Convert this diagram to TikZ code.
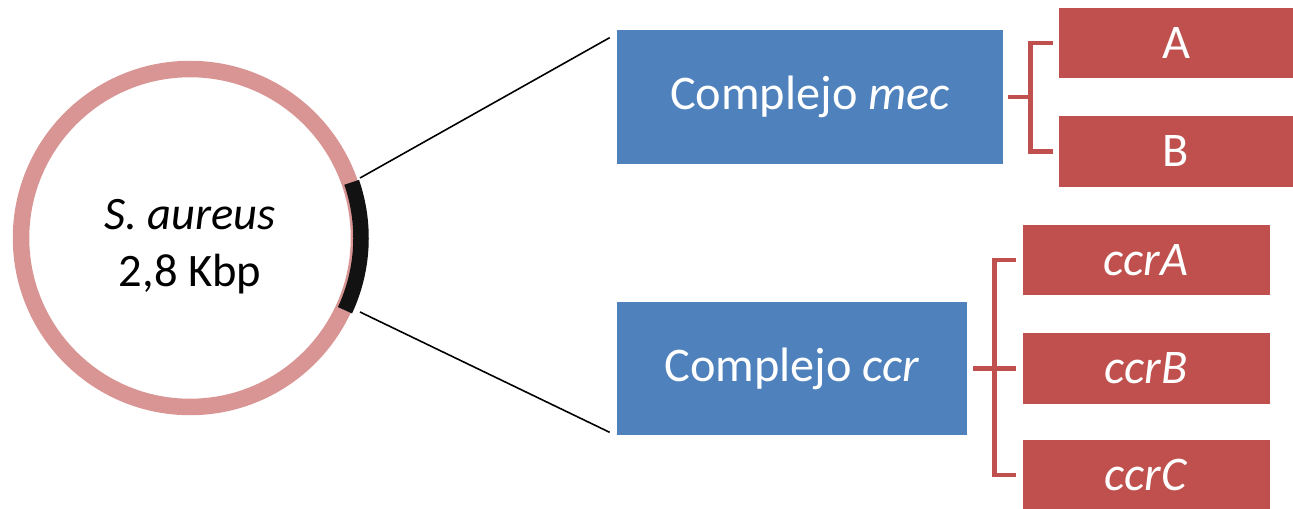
\documentclass[tikz,border=0pt]{standalone}
\usepackage{fontspec}
\setmainfont{Carlito}
\usepackage{xcolor}
\usetikzlibrary{positioning,calc}

\definecolor{cajaazul}{HTML}{4F81BD}
\definecolor{cajaroja}{HTML}{C0504D}
\definecolor{anillo}{HTML}{D99594}

\tikzset{
  bluebox/.style={fill=cajaazul, text=white, inner sep=0pt, font=\fontsize{27.5}{32}\selectfont},
  redbox/.style={fill=cajaroja, text=white, inner sep=0pt, minimum height=1.42cm, font=\fontsize{27.5}{32}\selectfont},
  bracket/.style={draw=cajaroja, line width=2.8pt},
  arm/.style={draw=black, line width=0.9pt}
}

\begin{document}
\begin{tikzpicture}[x=0.02cm, y=-0.02cm]
    \useasboundingbox (0,0) rectangle (1293,509);
    % Plasmid
    \draw [anillo, line width=0.33cm] (190,238) circle [radius=3.38cm];
    \draw [black!93, line width=0.31cm] (190,238) ++(-19:171) arc [start angle=-19, end angle=25, radius=171];
    \node (plasmido) at (190,247) [align=center, font=\fontsize{26.5}{32.5}\selectfont] {\textit{S. aureus}\\2,8 Kbp};
    \coordinate (armA) at (360,178);
    \coordinate (armB) at (360,312);
    % Complejos
    \node (mec) at (810,97) [bluebox, minimum width=7.72cm, minimum height=2.68cm] {Complejo \textit{mec}};
    \node (ccr) at (792,368.5) [bluebox, minimum width=7cm, minimum height=2.66cm] {Complejo \textit{ccr}};
    % Genes
    \node (mecA) at (1176,43) [redbox, minimum width=4.68cm] {A};
    \node (mecB) at (1176,151.5) [redbox, minimum width=4.68cm] {B};
    \node (ccrA) at (1146,260) [redbox, minimum width=4.94cm] {\textit{ccrA}};
    \node (ccrB) at (1146,368.5) [redbox, minimum width=4.94cm] {\textit{ccrB}};
    \node (ccrC) at (1146,475) [redbox, minimum width=4.94cm] {\textit{ccrC}};
    % Zoom lines
    \draw [arm] (armA) -- ($(mec.north west)+(-7,8)$);
    \draw [arm] (armB) -- ($(ccr.south west)+(-7,-3)$);
    % Brackets
    \draw [bracket] ($(mec.east)+(5,0)$) -- ++(23,0);
    \draw [bracket] ($(mecA.west)+(-6,0)$) -- ++(-22,0) |- ($(mecB.west)+(-6,0)$);
    \draw [bracket] ($(ccr.east)+(6,0)$) -- ($(ccrB.west)+(-6,0)$);
    \draw [bracket] ($(ccrA.west)+(-6,0)$) -- ++(-22,0) |- ($(ccrC.west)+(-6,0)$);
\end{tikzpicture}
\end{document}
